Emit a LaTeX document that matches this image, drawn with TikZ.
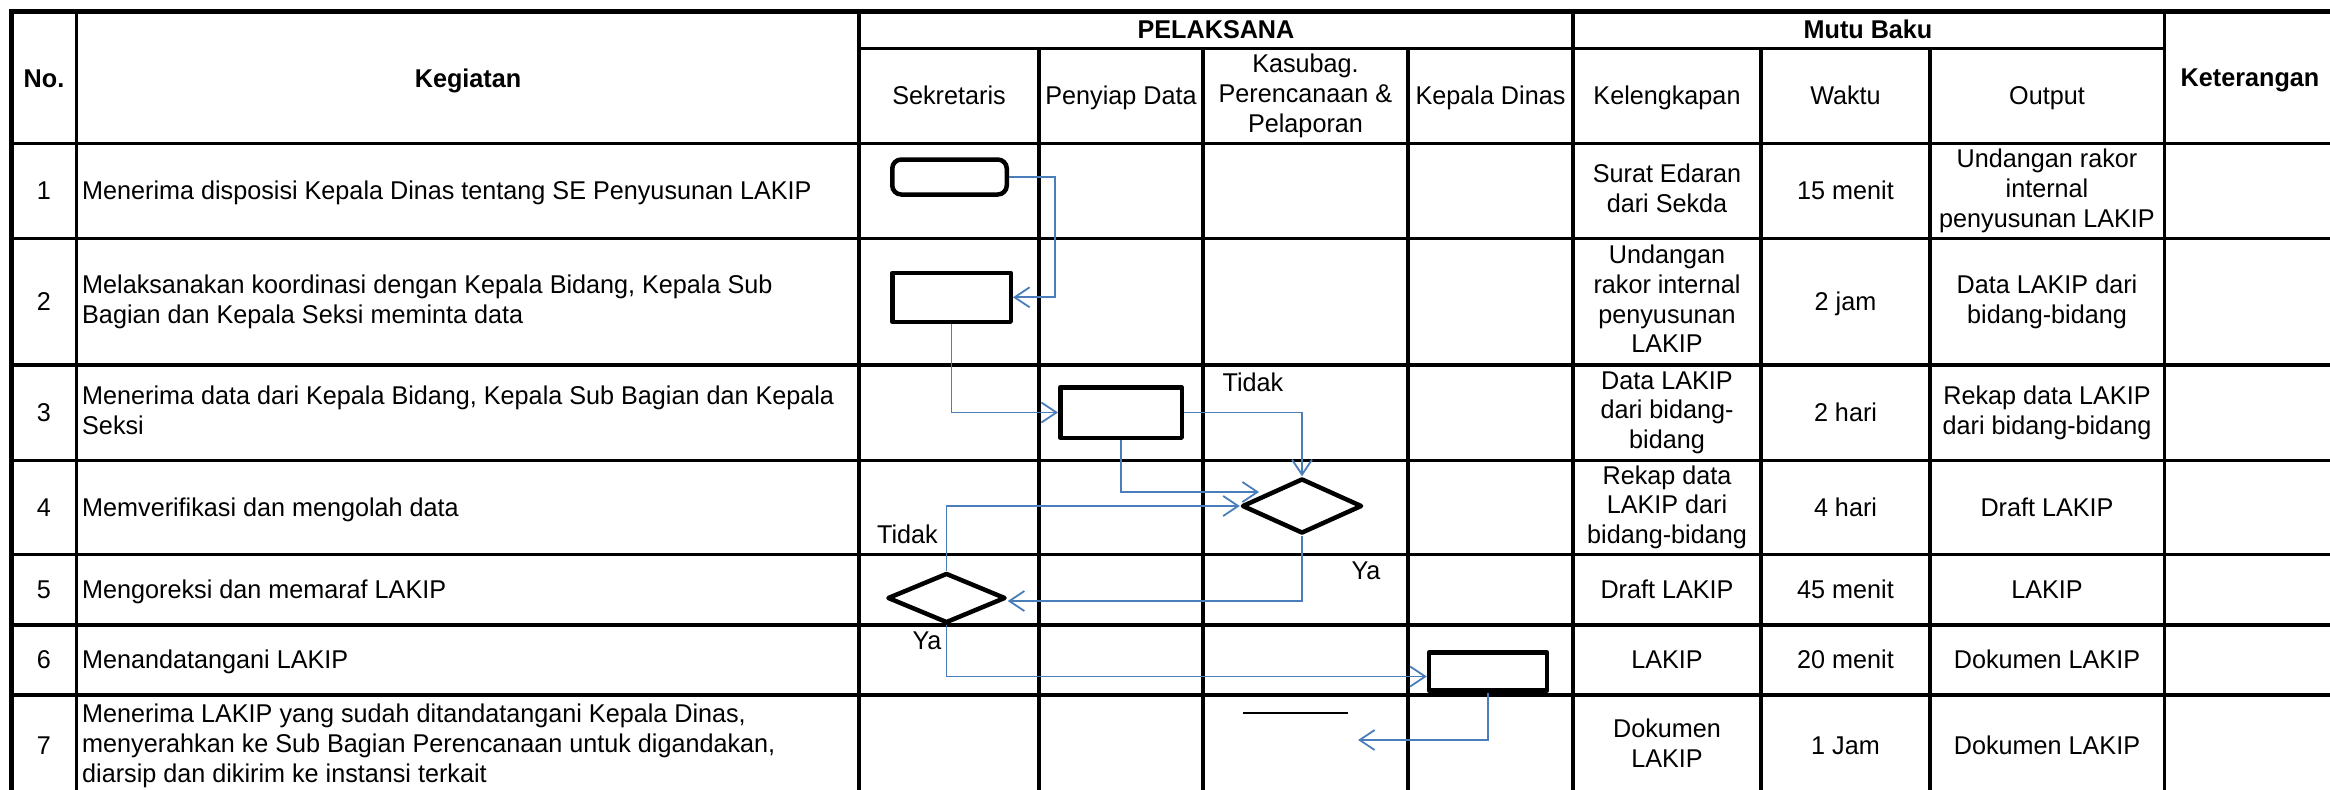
\documentclass[tikz,border=0pt]{standalone}
\usepackage{fontspec}
\setmainfont[FakeStretch=0.98]{Liberation Sans}
\usetikzlibrary{arrows.meta,shapes.geometric}
\definecolor{flowblue}{RGB}{74,126,187}
% line box with the ascent and descent of the font, so cells centre like a spreadsheet
\newcommand\cellstrut{\rule[-0.212em]{0pt}{1.117em}}

\begin{document}
\begin{tikzpicture}[x=1pt,y=-1pt,
  lbl/.style={font=\fontsize{25.7}{29.6}\selectfont, inner sep=0pt, align=center},
  txt/.style={lbl, execute at begin node=\cellstrut, execute at end node=\cellstrut},
  hdr/.style={txt, font=\fontsize{25.7}{29.6}\selectfont\bfseries},
  act/.style={txt, anchor=west, align=left},
  tabline/.style={line width=3.5pt},
  outerline/.style={line width=5pt},
  procbox/.style={draw, line width=4.5pt, line join=round, inner sep=0pt},
  decision/.style={diamond, draw, line width=4.5pt, line join=round, inner sep=0pt},
  flow/.style={draw=flowblue, line width=1.8pt, -{Straight Barb[length=15pt,width=20pt]}},
]
\useasboundingbox (0,0) rectangle (2330,790);
\clip (0,0) rectangle (2330,790);
\fill[white] (0,0) rectangle (2330,790);

% ---------- table grid ----------
\draw[outerline] (11.5,11.5) rectangle (2338,800);
% column rules
\foreach \x in {76.5,859,1573,2164.5} \draw[tabline] (\x,11.5) -- (\x,800);
\foreach \x in {1039,1203,1408,1761,1930} \draw[tabline] (\x,48.3) -- (\x,800);
% row rules
\draw[tabline] (859,48.3) -- (2164.5,48.3);
\foreach \y in {143.7,238.3,365,460.3,554.5,625,695} \draw[tabline] (11.5,\y) -- (2338,\y);

% ---------- headers ----------
\node[hdr] (hNo)  at (44,79) {No.};
\node[hdr] (hKeg) at (468,79) {Kegiatan};
\node[hdr] (hPel) at (1216,30) {PELAKSANA};
\node[hdr] (hMutu) at (1868,30) {Mutu Baku};
\node[hdr] (hKet) at (2250,78) {Keterangan};
\node[txt] (hSek) at (949,96) {Sekretaris};
\node[txt] (hPen) at (1121,96) {Penyiap Data};
\node[txt] (hKas) at (1305.5,96) {Kasubag.\\Perencanaan \&\\Pelaporan};
\node[txt] (hKep) at (1490.5,96) {Kepala Dinas};
\node[txt] (hKel) at (1667,96) {Kelengkapan};
\node[txt] (hWak) at (1845.5,96) {Waktu};
\node[txt] (hOut) at (2047,96) {Output};

% ---------- rows ----------
% row 1
\node[txt] (n1) at (44,191) {1};
\node[act] (k1) at (82,191) {Menerima disposisi Kepala Dinas tentang SE Penyusunan LAKIP};
\node[txt] (l1) at (1667,191) {Surat Edaran\\dari Sekda};
\node[txt] (w1) at (1845.5,191) {15 menit};
\node[txt] (o1) at (2047,191) {Undangan rakor\\internal\\penyusunan LAKIP};
% row 2
\node[txt] (n2) at (44,301.7) {2};
\node[act] (k2) at (82,301.7) {Melaksanakan koordinasi dengan Kepala Bidang, Kepala Sub\\Bagian dan Kepala Seksi meminta data};
\node[txt] (l2) at (1667,301.7) {Undangan\\rakor internal\\penyusunan\\LAKIP};
\node[txt] (w2) at (1845.5,301.7) {2 jam};
\node[txt] (o2) at (2047,301.7) {Data LAKIP dari\\bidang-bidang};
% row 3
\node[txt] (n3) at (44,412.7) {3};
\node[act] (k3) at (82,412.7) {Menerima data dari Kepala Bidang, Kepala Sub Bagian dan Kepala\\Seksi};
\node[txt] (l3) at (1667,412.7) {Data LAKIP\\dari bidang-\\bidang};
\node[txt] (w3) at (1845.5,412.7) {2 hari};
\node[txt] (o3) at (2047,412.7) {Rekap data LAKIP\\dari bidang-bidang};
% row 4
\node[txt] (n4) at (44,507.4) {4};
\node[act] (k4) at (82,507.4) {Memverifikasi dan mengolah data};
\node[txt] (l4) at (1667,507.4) {Rekap data\\LAKIP dari\\bidang-bidang};
\node[txt] (w4) at (1845.5,507.4) {4 hari};
\node[txt] (o4) at (2047,507.4) {Draft LAKIP};
% row 5
\node[txt] (n5) at (44,589.8) {5};
\node[act] (k5) at (82,589.8) {Mengoreksi dan memaraf LAKIP};
\node[txt] (l5) at (1667,589.8) {Draft LAKIP};
\node[txt] (w5) at (1845.5,589.8) {45 menit};
\node[txt] (o5) at (2047,589.8) {LAKIP};
% row 6
\node[txt] (n6) at (44,660) {6};
\node[act] (k6) at (82,660) {Menandatangani LAKIP};
\node[txt] (l6) at (1667,660) {LAKIP};
\node[txt] (w6) at (1845.5,660) {20 menit};
\node[txt] (o6) at (2047,660) {Dokumen LAKIP};
% row 7
\node[txt] (n7) at (44,746) {7};
\node[act] (k7) at (82,746) {Menerima LAKIP yang sudah ditandatangani Kepala Dinas,\\menyerahkan ke Sub Bagian Perencanaan untuk digandakan,\\diarsip dan dikirim ke instansi terkait};
\node[txt] (l7) at (1667,746) {Dokumen\\LAKIP};
\node[txt] (w7) at (1845.5,746) {1 Jam};
\node[txt] (o7) at (2047,746) {Dokumen LAKIP};

% ---------- flow shapes ----------
\node[procbox, rounded corners=9pt, minimum width=114.5pt, minimum height=35pt] (s1) at (949.5,177) {};
\node[procbox, minimum width=118.5pt, minimum height=49pt] (s2) at (951.5,297.3) {};
\node[procbox, minimum width=121.5pt, minimum height=50.5pt] (s3) at (1121,412.5) {};
\node[decision, minimum width=120pt, minimum height=55pt] (d1) at (1302,506) {};
\node[decision, minimum width=118pt, minimum height=50pt] (d2) at (946.5,598) {};
\node[procbox, minimum width=118pt, minimum height=38pt] (s6) at (1488,671.5) {};
\draw[line width=1.2pt] (1243,713) -- (1348,713);

\coordinate (d1in) at (1259,492);
\coordinate (endtip) at (1358,740);

% ---------- connectors ----------
\draw[flow] (s1.east) -- ++(46,0) |- (s2.east);
\draw[flow] (s2.south) |- (s3.west);
\draw[flow] (s3.east) -| (d1.north);
\draw[flow] (s3.south) |- (d1in);
\draw[flow] (d2.north) |- (d1.west);
\draw[flow] (d1.south) |- ([yshift=-3pt]d2.east);
\draw[flow] (d2.south) |- ([yshift=-5pt]s6.west);
\draw[flow] (s6.south) |- (endtip);

% ---------- branch labels ----------
\node[lbl] (lt1) at (1253,382) {Tidak};
\node[lbl] (lt2) at (907.5,534) {Tidak};
\node[lbl] (ly1) at (1366,571) {Ya};
\node[lbl] (ly2) at (927,641) {Ya};
\end{tikzpicture}
\end{document}
